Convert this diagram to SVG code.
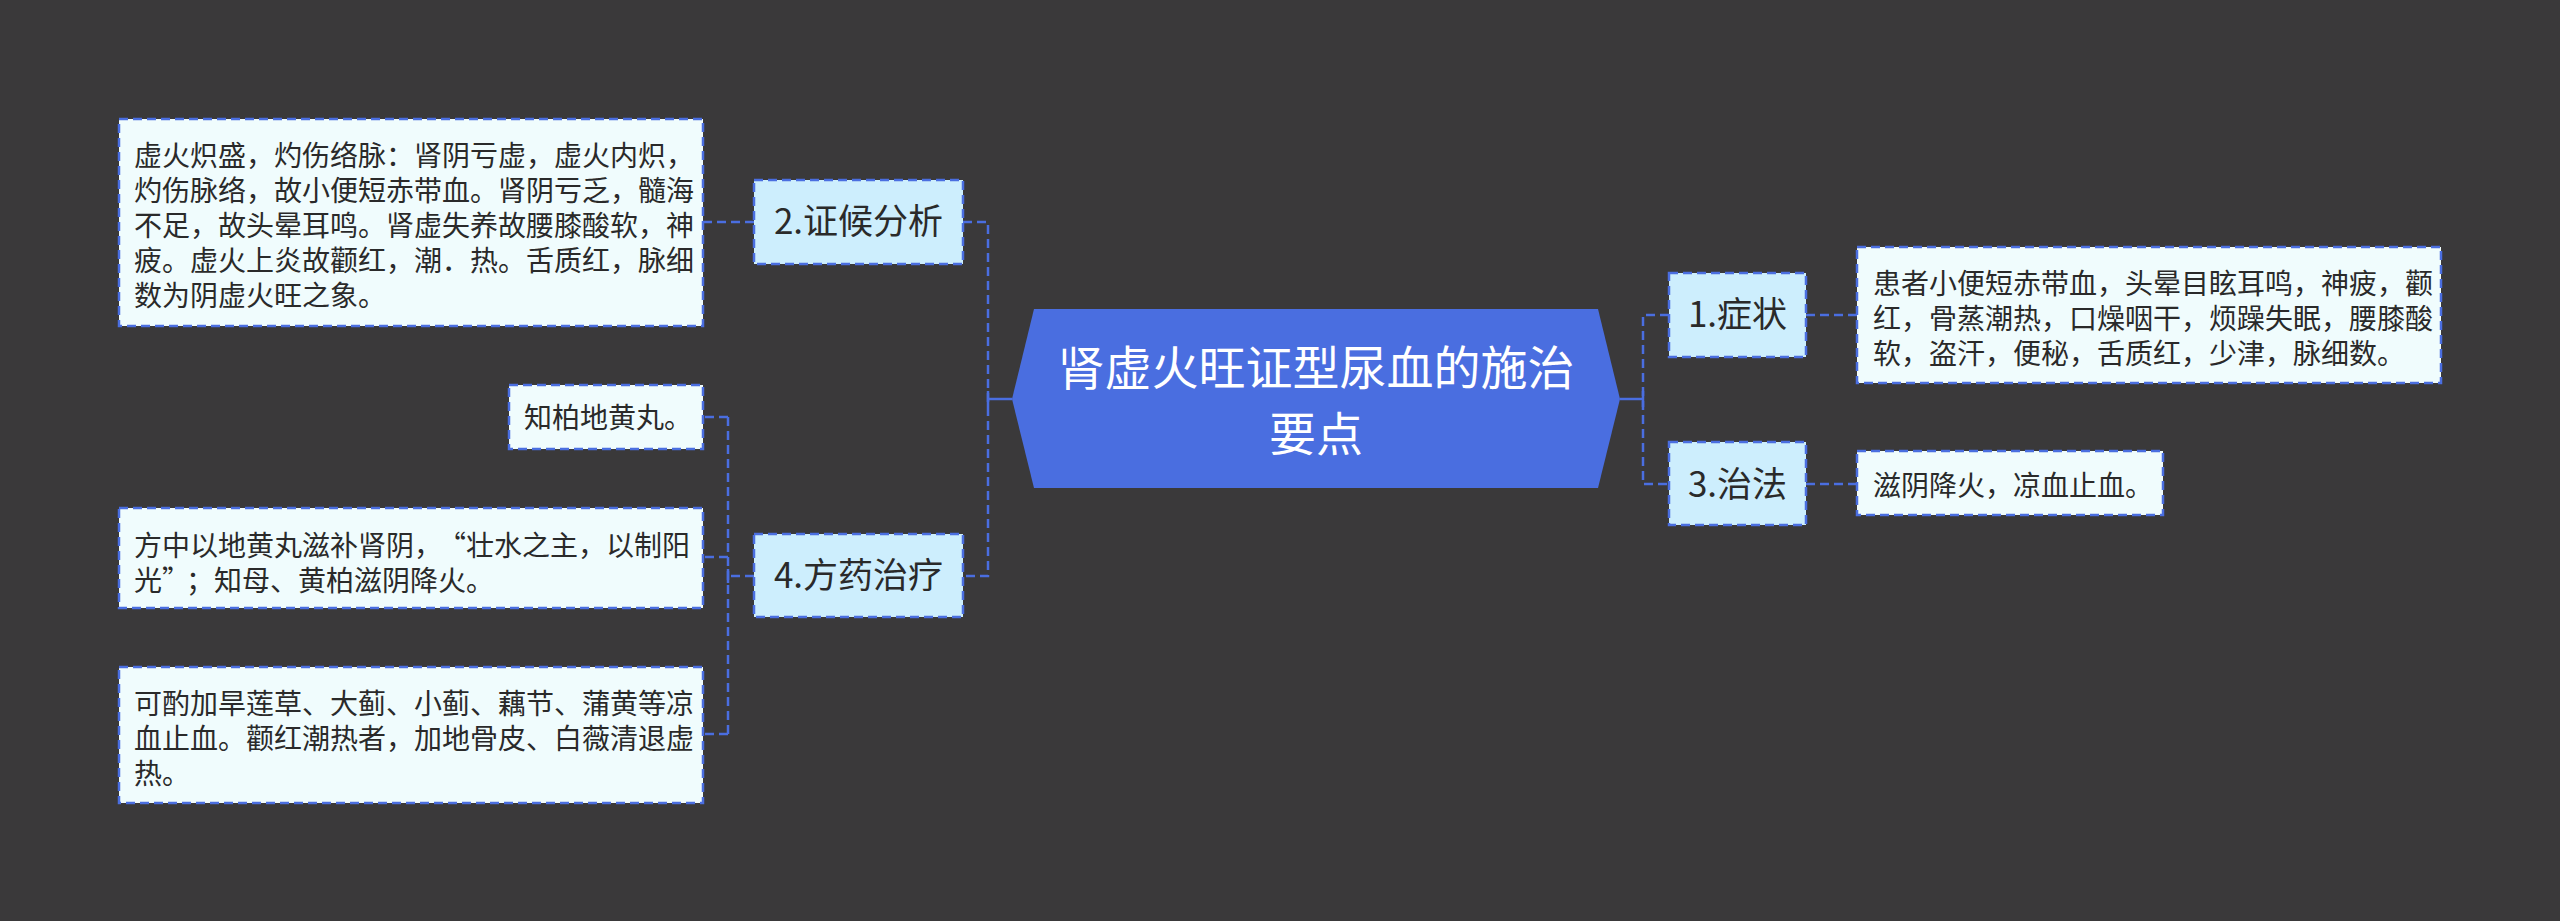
<svg xmlns="http://www.w3.org/2000/svg" width="2560" height="921" viewBox="0 0 2560 921">
<style>
.bg{fill:#3a393a}
.node rect{fill:#cdeefd;stroke:#4a6ee0;stroke-width:2.5;stroke-dasharray:9 5}
.leaf rect{fill:#f0fcfd;stroke:#4a6ee0;stroke-width:2.5;stroke-dasharray:9 5}
.nt{font-family:"Noto Sans CJK SC","Noto Sans",sans-serif;font-size:35px;fill:#2a2a2a;text-anchor:middle}
.lt{font-family:"Noto Sans CJK SC",sans-serif;font-size:28px;fill:#2a2a2a}
.ct{font-family:"Noto Sans CJK SC",sans-serif;font-size:47px;fill:#ffffff;text-anchor:middle}
.dash{fill:none;stroke:#4a6ee0;stroke-width:2.5;stroke-dasharray:9 5}
.solid{fill:none;stroke:#4a6ee0;stroke-width:2.5}
</style>
<rect class="bg" x="0" y="0" width="2560" height="921"/>
<g id="connectors">
  <path class="dash" d="M703,222 H754"/>
  <path class="dash" d="M963,222 H988 V576 H963"/>
  <path class="solid" d="M988,399 H1012 M988,391 V407"/>
  <path class="dash" d="M728,417 V734"/>
  <path class="dash" d="M728,417 H703 M728,557 H703 M728,734 H703"/>
  <path class="dash" d="M754,576 H728"/>
  <path class="solid" d="M728,569 V583"/>
  <path class="solid" d="M1620,399 H1643 M1643,391 V407"/>
  <path class="dash" d="M1669,315 H1643 V484 H1669"/>
  <path class="dash" d="M1806,315 H1857"/>
  <path class="dash" d="M1806,484 H1857"/>
</g>
<g id="center">
  <polygon points="1034,309 1598,309 1620,399 1598,488 1034,488 1012,399" fill="#4a6ee0"/>
  <text class="ct" x="1316" y="385">肾虚火旺证型尿血的施治</text>
  <text class="ct" x="1316" y="451">要点</text>
</g>
<g id="n1" class="node">
  <rect x="1669" y="273" width="137" height="84"/>
  <text class="nt" x="1737.5" y="327">1.症状</text>
</g>
<g id="n1-leaf" class="leaf">
  <rect x="1857" y="247" width="584" height="136"/>
  <text class="lt" x="1873" y="294">患者小便短赤带血，头晕目眩耳鸣，神疲，颧</text>
  <text class="lt" x="1873" y="329">红，骨蒸潮热，口燥咽干，烦躁失眠，腰膝酸</text>
  <text class="lt" x="1873" y="364">软，盗汗，便秘，舌质红，少津，脉细数。</text>
</g>
<g id="n3" class="node">
  <rect x="1669" y="442" width="137" height="83"/>
  <text class="nt" x="1737.5" y="497">3.治法</text>
</g>
<g id="n3-leaf" class="leaf">
  <rect x="1857" y="451" width="306" height="64"/>
  <text class="lt" x="1873" y="496">滋阴降火，凉血止血。</text>
</g>
<g id="n2" class="node">
  <rect x="754" y="180" width="209" height="84"/>
  <text class="nt" x="858.5" y="234">2.证候分析</text>
</g>
<g id="n2-leaf" class="leaf">
  <rect x="119" y="119" width="584" height="207"/>
  <text class="lt" x="134" y="166">虚火炽盛，灼伤络脉：肾阴亏虚，虚火内炽，</text>
  <text class="lt" x="134" y="201">灼伤脉络，故小便短赤带血。肾阴亏乏，髓海</text>
  <text class="lt" x="134" y="236">不足，故头晕耳鸣。肾虚失养故腰膝酸软，神</text>
  <text class="lt" x="134" y="271">疲。虚火上炎故颧红，潮．热。舌质红，脉细</text>
  <text class="lt" x="134" y="306">数为阴虚火旺之象。</text>
</g>
<g id="n4" class="node">
  <rect x="754" y="534" width="209" height="83"/>
  <text class="nt" x="858.5" y="588">4.方药治疗</text>
</g>
<g id="n4-leaf1" class="leaf">
  <rect x="509" y="385" width="194" height="64"/>
  <text class="lt" x="524" y="428">知柏地黄丸。</text>
</g>
<g id="n4-leaf2" class="leaf">
  <rect x="119" y="508" width="584" height="100"/>
  <text class="lt" x="134" y="556">方中以地黄丸滋补肾阴，<tspan dx="10">“壮水之主，以制阳</tspan></text>
  <text class="lt" x="134" y="591">光”<tspan dx="10">；知母、黄柏滋阴降火。</tspan></text>
</g>
<g id="n4-leaf3" class="leaf">
  <rect x="119" y="667" width="584" height="136"/>
  <text class="lt" x="134" y="714">可酌加旱莲草、大蓟、小蓟、藕节、蒲黄等凉</text>
  <text class="lt" x="134" y="749">血止血。颧红潮热者，加地骨皮、白薇清退虚</text>
  <text class="lt" x="134" y="784">热。</text>
</g>
</svg>
